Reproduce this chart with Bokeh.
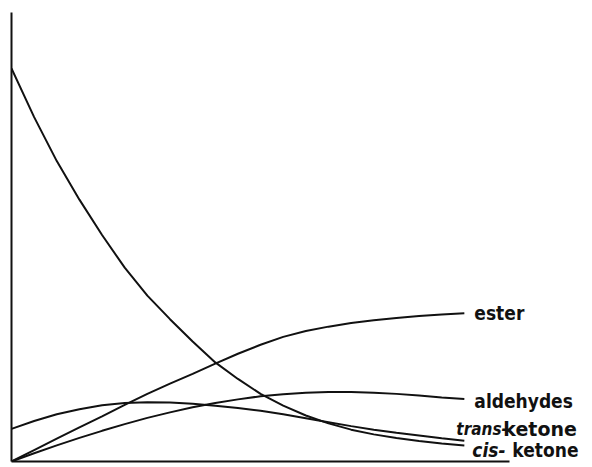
from bokeh.plotting import figure
from bokeh.models import Label, Range1d, FixedTicker
from bokeh.embed import file_html
from bokeh.resources import INLINE

# time axis (arbitrary units)
t = [0, 0.5, 1, 1.5, 2, 2.5, 3, 3.5, 4, 4.5, 5, 5.5, 6, 6.5, 7, 7.5, 8, 8.5, 9, 9.5, 10]

# concentrations (arbitrary units)
cis_ketone = [100, 87.6, 76.4, 66.6, 57.6, 49.3, 42.2, 36.2, 30.5, 25.2, 21.0,
              17.2, 14.2, 11.7, 9.7, 8.1, 6.9, 6.0, 5.2, 4.6, 4.1]
trans_ketone = [8.3, 10.3, 12.0, 13.3, 14.3, 14.9, 15.1, 15.0, 14.7, 14.2, 13.6,
                12.9, 12.0, 11.0, 10.0, 9.0, 8.1, 7.3, 6.6, 5.9, 5.3]
aldehydes = [0, 2.1, 4.1, 6.0, 7.8, 9.5, 11.1, 12.5, 13.8, 14.9, 15.8,
             16.6, 17.1, 17.5, 17.7, 17.7, 17.5, 17.2, 16.8, 16.3, 15.9]
ester = [0, 2.9, 5.8, 8.7, 11.5, 14.4, 17.2, 19.8, 22.3, 24.9, 27.4,
         29.7, 31.7, 33.2, 34.3, 35.2, 35.9, 36.5, 37.0, 37.4, 37.7]

AXIS_END = 11  # end of the drawn time axis

INK = "#111111"
FONT = "DejaVu Sans Condensed"

p = figure(width=592, height=467, output_backend="svg", toolbar_location=None,
           x_range=Range1d(0, 12.83), y_range=Range1d(0, 114.2),
           min_border_left=11, min_border_right=0, min_border_top=12, min_border_bottom=6)
p.grid.visible = False
p.outline_line_color = None
p.background_fill_color = "white"
p.border_fill_color = "white"

for ax in p.axis:
    ax.ticker = FixedTicker(ticks=[])
    ax.major_tick_line_color = None
    ax.minor_tick_line_color = None
    ax.major_tick_out = 0
    ax.major_tick_in = 0
    ax.major_label_standoff = 0
    ax.axis_line_color = INK
    ax.axis_line_width = 2
p.xaxis.bounds = (0, AXIS_END)

for ys in (cis_ketone, trans_ketone, aldehydes, ester):
    p.line(t, ys, line_color=INK, line_width=2)

def lab(x, y, text, dx, dy, style="bold", size="19px", font=FONT):
    p.add_layout(Label(x=x, y=y, text=text, x_offset=dx, y_offset=dy,
                       text_font=font, text_font_style=style, text_font_size=size,
                       text_color=INK, text_baseline="alphabetic"))

lab(t[-1], ester[-1], "ester", 10, 0)
lab(t[-1], aldehydes[-1], "aldehydes", 10, -2)
lab(t[-1], trans_ketone[-1], "trans-", -8, 12, style="bold italic", size="17px")
lab(t[-1], trans_ketone[-1], "ketone", 39, 12, font="DejaVu Sans")
lab(t[-1], cis_ketone[-1], "cis-", 8, -5, style="bold italic")
lab(t[-1], cis_ketone[-1], "ketone", 48, -5)

open("out.html", "w").write(file_html(p, INLINE))
